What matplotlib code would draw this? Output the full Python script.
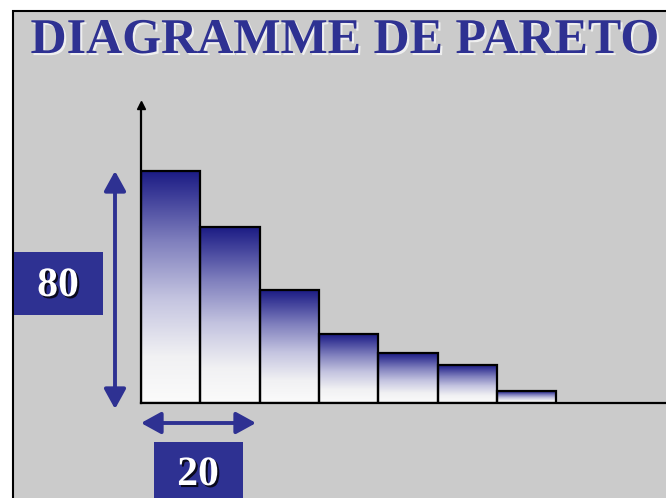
import numpy as np
import matplotlib.pyplot as plt
from matplotlib.patches import Rectangle, FancyArrowPatch
from matplotlib.colors import LinearSegmentedColormap
import matplotlib.patheffects as pe

# taille de l'image en pixels
W, H = 666, 498

# données du diagramme
categories = ['A', 'B', 'C', 'D', 'E', 'F', 'G']
values = [232, 176, 113, 69, 50, 38, 12]
title = 'DIAGRAMME DE PARETO'
label_effets = '80'
label_causes = '20'

BLUE = '#2e3192'
GREY = '#cbcbcb'
SERIF = ['Liberation Serif', 'DejaVu Serif']


def fx(x):
    return x / W


def fy(y):
    return 1 - y / H


fig = plt.figure(figsize=(W / 100, H / 100), dpi=100)
fig.patch.set_facecolor('white')

# cadre gris
fig.patches.append(Rectangle((fx(13), fy(H + 5)), fx(W), (H + 5 - 11) / H,
                             transform=fig.transFigure, facecolor=GREY,
                             edgecolor='black', lw=1.5, zorder=-1))

fig.text(fx(345), fy(53), title, ha='center', va='baseline', fontsize=36,
         fontweight='bold', family=SERIF, color=BLUE,
         path_effects=[pe.SimplePatchShadow(offset=(1.5, -1.5), shadow_rgbFace='white', alpha=0.7),
                       pe.Normal()])

# axes des barres
bar_w = 59.3
ax = fig.add_axes([fx(141), fy(403), fx(W) - fx(141), (403 - 105) / H])
ax.patch.set_visible(False)
n = len(categories)
xs = np.arange(n)
ax.bar(xs, values, width=1, align='edge', facecolor='none', edgecolor='black', lw=1.6, zorder=3)

cmap = LinearSegmentedColormap.from_list('pareto', [
    (0.0, '#fbfbfb'), (0.2, '#f1f1f3'), (0.45, '#c4c4e0'),
    (0.7, '#7f7fbd'), (0.9, '#3c3c98'), (1.0, '#1c1c84')])
grad = np.linspace(0, 1, 256).reshape(-1, 1)
for x, v in zip(xs, values):
    ax.imshow(grad, extent=[x, x + 1, 0, v], origin='lower', cmap=cmap,
              aspect='auto', zorder=2, interpolation='bilinear')

ax.set_xlim(0, (W - 141) / bar_w)
ax.set_ylim(0, 298)
for s in ['top', 'right']:
    ax.spines[s].set_visible(False)
for s in ['left', 'bottom']:
    ax.spines[s].set_linewidth(1.6)
ax.set_xticks([])
ax.set_yticks([])
ax.plot([0], [1], marker='^', ms=6, color='black', transform=ax.transAxes, clip_on=False)

# flèches et étiquettes 80 / 20
arrow_style = '<|-|>,head_length=0.6,head_width=0.33'
fig.patches.append(FancyArrowPatch((fx(115), fy(409)), (fx(115), fy(171)),
                                   transform=fig.transFigure, arrowstyle=arrow_style,
                                   mutation_scale=20, color=BLUE, lw=2.8,
                                   shrinkA=0, shrinkB=0))
fig.patches.append(FancyArrowPatch((fx(141), fy(423)), (fx(256), fy(423)),
                                   transform=fig.transFigure, arrowstyle=arrow_style,
                                   mutation_scale=20, color=BLUE, lw=2.8,
                                   shrinkA=0, shrinkB=0))

fig.patches.append(Rectangle((fx(14), fy(315)), fx(103) - fx(14), (315 - 252) / H,
                             transform=fig.transFigure, facecolor=BLUE, lw=0))
fig.patches.append(Rectangle((fx(154), fy(H + 5)), fx(243) - fx(154), (H + 5 - 442) / H,
                             transform=fig.transFigure, facecolor=BLUE, lw=0))

shadow = [pe.SimplePatchShadow(offset=(1.5, -1.5), shadow_rgbFace='black', alpha=0.8), pe.Normal()]
fig.text(fx(58), fy(286), label_effets, ha='center', va='center', fontsize=30,
         fontweight='bold', family=SERIF, color='white', path_effects=shadow)
fig.text(fx(198), fy(475), label_causes, ha='center', va='center', fontsize=30,
         fontweight='bold', family=SERIF, color='white', path_effects=shadow)

fig.savefig('out.png', dpi=100, facecolor=fig.get_facecolor())
